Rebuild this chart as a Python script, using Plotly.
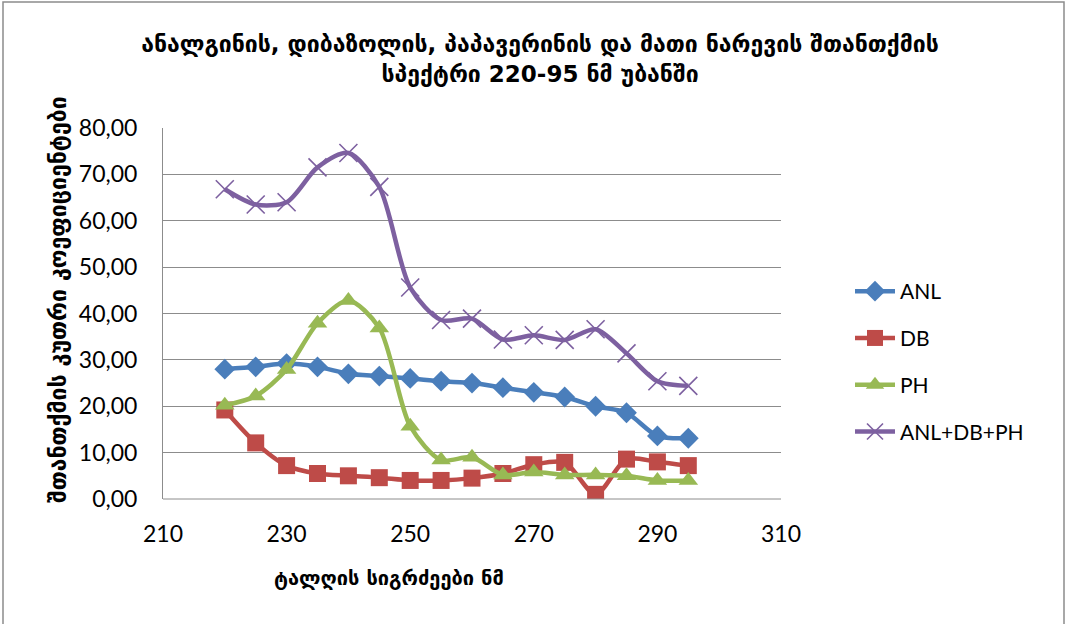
import plotly.graph_objects as go

wavelengths = [220, 225, 230, 235, 240, 245, 250, 255, 260, 265, 270, 275, 280, 285, 290, 295]
anl = [28.0, 28.5, 29.2, 28.5, 27.0, 26.5, 26.0, 25.4, 25.0, 24.0, 23.0, 22.0, 20.0, 18.6, 13.6, 13.1]
db = [19.2, 12.1, 7.2, 5.5, 5.0, 4.6, 4.0, 4.0, 4.5, 5.5, 7.4, 7.9, 1.0, 8.6, 8.0, 7.2]
ph = [20.2, 22.2, 27.9, 37.9, 42.8, 36.9, 15.7, 8.4, 9.0, 5.2, 5.8, 5.2, 5.2, 5.0, 4.0, 4.0]
mix = [66.8, 63.5, 64.0, 71.5, 74.6, 67.3, 45.6, 38.6, 38.9, 34.4, 35.3, 34.3, 36.6, 31.4, 25.4, 24.4]

series_names = ["ANL", "DB", "PH", "ANL+DB+PH"]
series_values = [anl, db, ph, mix]
colors = ["#4A7EBB", "#BE4B48", "#98B954", "#7D60A0"]
symbols = ["diamond", "square", "triangle-up", "x-thin"]
sizes = [16, 17, 17, 18]

title_text = "ანალგინის, დიბაზოლის, პაპავერინის და მათი ნარევის შთანთქმის<br>სპექტრი 220-95 ნმ უბანში"
x_title = "ტალღის სიგრძეები ნმ"
y_title = "შთანთქმის კუთრი კოეფიციენტები"

fig = go.Figure()
for name, vals, c, s, sz in zip(series_names, series_values, colors, symbols, sizes):
    marker = dict(symbol=s, size=sz, color=c)
    if s == "x-thin":
        marker["line"] = dict(width=1.6, color=c)
    fig.add_trace(go.Scatter(
        x=wavelengths, y=vals, name=name, mode="lines+markers",
        line=dict(color=c, width=4.5, shape="spline", smoothing=0.8),
        marker=marker, legendgroup=name,
    ))

L, R, T, B = 163, 285, 128, 125
W, H = 1066, 624
pw, ph_ = W - L - R, H - T - B

def px(x):
    return (x - L) / pw

def py(y):
    return (H - B - y) / ph_

fig.update_layout(
    width=W, height=H,
    margin=dict(l=L, r=R, t=T, b=B),
    paper_bgcolor="white", plot_bgcolor="white",
    separators=", ",
    font=dict(family="Lato, DejaVu Sans", size=23, color="black"),
    showlegend=True,
    legend=dict(x=px(850), y=py(271), xanchor="left", yanchor="top",
                font=dict(size=21, family="Lato, DejaVu Sans"),
                tracegroupgap=16.5, itemwidth=40, bgcolor="rgba(0,0,0,0)"),
    title=dict(text=title_text, x=540 / W, xref="container", xanchor="center",
               y=1 - 52 / H, yref="container", yanchor="top",
               font=dict(family="DejaVu Sans", size=23, color="black", weight="bold")),
    xaxis=dict(range=[210, 310], dtick=20, tick0=210, showgrid=False,
               showline=False, zeroline=False, ticks="", ticklabelstandoff=19,
               tickfont=dict(size=23)),
    yaxis=dict(range=[0, 80], dtick=10, tickformat=".2f", showgrid=True,
               gridcolor="#8C8C8C", gridwidth=1, showline=True, linecolor="#8C8C8C",
               linewidth=1, zeroline=False, ticks="", ticklabelstandoff=20,
               tickfont=dict(size=23)),
    annotations=[
        dict(text=x_title, x=px(389), y=py(578), xref="paper", yref="paper",
             showarrow=False, xanchor="center", yanchor="middle",
             font=dict(family="DejaVu Sans", size=20, weight="bold")),
        dict(text=y_title, x=px(58), y=py(300), xref="paper", yref="paper",
             showarrow=False, xanchor="center", yanchor="middle", textangle=-90,
             font=dict(family="DejaVu Sans", size=23, weight="bold")),
    ],
    shapes=[
        dict(type="rect", xref="paper", yref="paper", x0=px(3), x1=px(1064),
             y0=py(630), y1=py(2), line=dict(color="#8C8C8C", width=1.5),
             fillcolor="rgba(0,0,0,0)", layer="below"),
        dict(type="line", xref="paper", yref="paper", x0=0, x1=1, y0=0, y1=0,
             line=dict(color="#8C8C8C", width=1)),
    ],
)

fig.write_html("out.html")
